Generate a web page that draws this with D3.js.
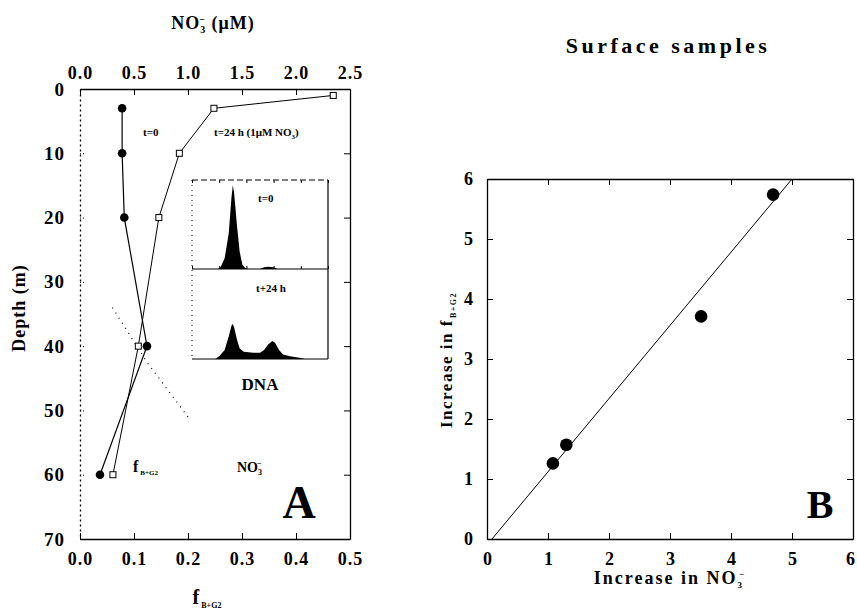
<!DOCTYPE html>
<html>
<head>
<meta charset="utf-8">
<script src="https://cdn.jsdelivr.net/npm/d3@7"></script>
<style>
  body{margin:0;background:#fff;}
  svg text{font-family:"Liberation Serif","DejaVu Serif",serif;font-weight:bold;fill:#000;}
</style>
</head>
<body>
<svg id="chart" width="857" height="611"></svg>
<script>
// ---- panel A data ----
const depthT0 = [3, 10, 20, 40, 60];
const fT0 = [0.078, 0.078, 0.082, 0.124, 0.037];
const depthT24 = [1, 3, 10, 20, 40, 60];
const fT24 = [0.469, 0.248, 0.184, 0.146, 0.108, 0.061];
const nitrateDepth = [34, 42.5, 51];
const nitrateVal = [0.3, 0.62, 1.0];
const fTicks = [0.0, 0.1, 0.2, 0.3, 0.4, 0.5];
const no3Ticks = [0.0, 0.5, 1.0, 1.5, 2.0, 2.5];
const depthTicks = [0, 10, 20, 30, 40, 50, 60, 70];

// DNA histograms (inset), channel 0-100, relative count
const dnaChannel0 = [0, 19, 21, 24, 27, 29, 30, 31, 33, 35, 37, 39, 41, 50, 53, 56, 60, 63, 100];
const dnaCount0 = [0, 0, 0.02, 0.12, 0.4, 0.8, 0.94, 0.85, 0.5, 0.2, 0.05, 0.01, 0, 0, 0.02, 0.025, 0.02, 0, 0];
const dnaChannel24 = [0, 17, 20, 24, 27, 29, 30, 31, 33, 35, 38, 45, 50, 53, 56, 59, 61, 64, 67, 72, 80, 83, 100];
const dnaCount24 = [0, 0, 0.03, 0.1, 0.25, 0.37, 0.39, 0.35, 0.22, 0.12, 0.08, 0.07, 0.07, 0.1, 0.16, 0.2, 0.18, 0.1, 0.05, 0.03, 0.01, 0, 0];

// ---- panel B data ----
const incNO3 = [1.08, 1.3, 3.51, 4.69];
const incF = [1.26, 1.57, 3.71, 5.74];
const fitSlope = 1.22, fitIntercept = -0.1;
const bTicks = [0, 1, 2, 3, 4, 5, 6];

const svg = d3.select("#chart");

// ================= panel A =================
const fx = d3.scaleLinear([0, 0.5], [80, 350]);
const nx = d3.scaleLinear([0, 2.5], [80, 350]);
const dy = d3.scaleLinear([0, 70], [89, 539]);

const gA = svg.append("g");

// bottom axis (f)
gA.append("g").attr("transform", `translate(0,${dy(70)})`)
  .call(d3.axisBottom(fx).tickValues(fTicks).tickFormat(d3.format(".1f")).tickSizeInner(-6).tickSizeOuter(0).tickPadding(13))
  .call(g => g.selectAll("text").attr("font-size", 18).attr("letter-spacing", 1));
// top axis (NO3)
gA.append("g").attr("transform", `translate(0,${dy(0)})`)
  .call(d3.axisTop(nx).tickValues(no3Ticks).tickFormat(d3.format(".1f")).tickSizeInner(-6).tickSizeOuter(0).tickPadding(10))
  .call(g => g.selectAll("text").attr("font-size", 18).attr("letter-spacing", 1));
// left axis (depth)
gA.append("g").attr("transform", `translate(${fx(0)},0)`)
  .call(d3.axisLeft(dy).tickValues(depthTicks).tickSizeInner(-4).tickSizeOuter(0).tickPadding(15))
  .call(g => g.select(".domain").attr("stroke-dasharray", "2,3"))
  .call(g => g.selectAll(".tick line").attr("stroke-dasharray", "1,2"))
  .call(g => g.selectAll("text").attr("font-size", 19).attr("letter-spacing", 1));
// right axis
gA.append("g").attr("transform", `translate(${fx(0.5)},0)`)
  .call(d3.axisRight(dy).tickValues(depthTicks).tickSizeInner(-6).tickSizeOuter(0).tickFormat(""));
gA.selectAll(".domain").attr("stroke-width", 1.3);

// lines
const lineA = d3.line();
gA.append("path")
  .attr("d", lineA(depthT0.map((d, i) => [fx(fT0[i]), dy(d)])))
  .attr("fill", "none").attr("stroke", "#000").attr("stroke-width", 1.2);
gA.append("path")
  .attr("d", lineA(depthT24.map((d, i) => [fx(fT24[i]), dy(d)])))
  .attr("fill", "none").attr("stroke", "#000").attr("stroke-width", 1);
gA.append("path")
  .attr("d", lineA(nitrateDepth.map((d, i) => [nx(nitrateVal[i]), dy(d)])))
  .attr("fill", "none").attr("stroke", "#000").attr("stroke-width", 1.2)
  .attr("stroke-dasharray", "1,5");

gA.selectAll("circle.t0").data(depthT0).join("circle")
  .attr("cx", (d, i) => fx(fT0[i])).attr("cy", d => dy(d)).attr("r", 4.3).attr("fill", "#000");
gA.selectAll("rect.t24").data(depthT24).join("rect")
  .attr("x", (d, i) => fx(fT24[i]) - 3).attr("y", d => dy(d) - 3)
  .attr("width", 6).attr("height", 6).attr("fill", "#fff").attr("stroke", "#000").attr("stroke-width", 1);

// annotations
gA.append("text").attr("x", 143).attr("y", 136).attr("font-size", 11).text("t=0");
const t24 = gA.append("text").attr("x", 214).attr("y", 136).attr("font-size", 11);
t24.append("tspan").text("t=24 h (1\u03bcM NO");
t24.append("tspan").attr("font-size", 7).attr("dy", 3).text("3");
t24.append("tspan").attr("dy", -3).text(")");

// axis titles
const tTop = gA.append("text").attr("x", 213).attr("y", 29).attr("text-anchor", "middle")
  .attr("font-size", 18).attr("letter-spacing", 1);
tTop.append("tspan").text("NO");
tTop.append("tspan").attr("font-size", 10).attr("dy", 4).text("3");
tTop.append("tspan").attr("font-size", 10).attr("dx", -7).attr("dy", -10).text("\u2212");
tTop.append("tspan").attr("dy", 6).text(" (\u03bcM)");

gA.append("text").attr("transform", "translate(25,308) rotate(-90)")
  .attr("text-anchor", "middle").attr("font-size", 18).attr("letter-spacing", 1).text("Depth (m)");

const tBot = gA.append("text").attr("x", 207).attr("y", 604).attr("text-anchor", "middle").attr("font-size", 20);
tBot.append("tspan").text("f");
tBot.append("tspan").attr("font-size", 8).attr("dy", 4).attr("dx", 2).text("B+G2");

const fLab = gA.append("text").attr("x", 133).attr("y", 472).attr("font-size", 16);
fLab.append("tspan").text("f");
fLab.append("tspan").attr("font-size", 7).attr("dy", 3).attr("dx", 2).text("B+G2");

const nLab = gA.append("text").attr("x", 237).attr("y", 472).attr("font-size", 14);
nLab.append("tspan").text("NO");
nLab.append("tspan").attr("font-size", 8).attr("dy", 3).text("3");
nLab.append("tspan").attr("font-size", 8).attr("dx", -5).attr("dy", -9).text("\u2212");

gA.append("text").attr("x", 299).attr("y", 518).attr("text-anchor", "middle").attr("font-size", 46).text("A");

// ---- inset DNA histograms ----
const hx = d3.scaleLinear([0, 100], [192, 328]);
const hyTop = d3.scaleLinear([0, 1], [269, 180]);
const hyBot = d3.scaleLinear([0, 1], [359, 269]);
const inset = gA.append("g");
inset.append("path")
  .attr("d", d3.area().x(d => hx(d)).y0(hyTop(0)).y1((d, i) => hyTop(dnaCount0[i]))(dnaChannel0))
  .attr("fill", "#000");
inset.append("path")
  .attr("d", d3.area().x(d => hx(d)).y0(hyBot(0)).y1((d, i) => hyBot(dnaCount24[i]))(dnaChannel24))
  .attr("fill", "#000");
// frame
inset.append("line").attr("x1", hx(0)).attr("x2", hx(100)).attr("y1", hyTop(1)).attr("y2", hyTop(1))
  .attr("stroke", "#000").attr("stroke-dasharray", "6,3");
inset.append("line").attr("x1", hx(0)).attr("x2", hx(0)).attr("y1", hyTop(1)).attr("y2", hyBot(0))
  .attr("stroke", "#000").attr("stroke-dasharray", "1,4");
inset.append("line").attr("x1", hx(100)).attr("x2", hx(100)).attr("y1", hyTop(1)).attr("y2", hyBot(0))
  .attr("stroke", "#000").attr("stroke-width", 1.2);
[hyTop(0), hyBot(0)].forEach(y => {
  inset.append("line").attr("x1", hx(0)).attr("x2", hx(100)).attr("y1", y).attr("y2", y)
    .attr("stroke", "#000").attr("stroke-width", 1.2);
});
inset.append("g").attr("transform", `translate(0,${hyTop(1)})`)
  .call(d3.axisTop(hx).ticks(5).tickSizeInner(-3).tickSizeOuter(0).tickFormat(""))
  .call(g => g.select(".domain").remove());
inset.append("g").attr("transform", `translate(0,${hyTop(0)})`)
  .call(d3.axisBottom(hx).ticks(5).tickSizeInner(-3).tickSizeOuter(0).tickFormat(""))
  .call(g => g.select(".domain").remove());
inset.append("text").attr("x", 258).attr("y", 202).attr("font-size", 11).text("t=0");
inset.append("text").attr("x", 256).attr("y", 292).attr("font-size", 11).text("t+24 h");
inset.append("text").attr("x", 260).attr("y", 390).attr("text-anchor", "middle").attr("font-size", 17).text("DNA");

// ================= panel B =================
const bx = d3.scaleLinear([0, 6], [487, 853]);
const by = d3.scaleLinear([0, 6], [539, 179]);
const gB = svg.append("g");

gB.append("g").attr("transform", `translate(0,${by(0)})`)
  .call(d3.axisBottom(bx).tickValues(bTicks).tickFormat(d3.format("d")).tickSizeInner(-6).tickSizeOuter(0).tickPadding(13))
  .call(g => g.selectAll("text").attr("font-size", 18))
  .call(g => g.selectAll(".tick:last-of-type text").attr("dx", -3));
gB.append("g").attr("transform", `translate(${bx(0)},0)`)
  .call(d3.axisLeft(by).tickValues(bTicks).tickFormat(d3.format("d")).tickSizeInner(-6).tickSizeOuter(0).tickPadding(14))
  .call(g => g.selectAll("text").attr("font-size", 18));
gB.append("g").attr("transform", `translate(0,${by(6)})`)
  .call(d3.axisTop(bx).tickValues(bTicks).tickSizeInner(-6).tickSizeOuter(0).tickFormat(""));
gB.append("g").attr("transform", `translate(${bx(6)},0)`)
  .call(d3.axisRight(by).tickValues(bTicks).tickSizeInner(-6).tickSizeOuter(0).tickFormat(""));
gB.selectAll(".domain").attr("stroke-width", 1.3);

// regression line, clipped to plot box
const xStart = (0 - fitIntercept) / fitSlope;
const xEnd = (6 - fitIntercept) / fitSlope;
gB.append("line")
  .attr("x1", bx(xStart)).attr("y1", by(fitSlope * xStart + fitIntercept))
  .attr("x2", bx(xEnd)).attr("y2", by(fitSlope * xEnd + fitIntercept))
  .attr("stroke", "#000").attr("stroke-width", 1);

gB.selectAll("circle.pt").data(incNO3).join("circle")
  .attr("cx", d => bx(d)).attr("cy", (d, i) => by(incF[i])).attr("r", 6.3).attr("fill", "#000");

gB.append("text").attr("x", 820).attr("y", 518).attr("text-anchor", "middle").attr("font-size", 40).text("B");

gB.append("text").attr("x", 668).attr("y", 53).attr("text-anchor", "middle")
  .attr("font-family", "Liberation Mono, monospace").attr("font-size", 22).attr("letter-spacing", 3.5)
  .text("Surface samples");

const bxLab = gB.append("text").attr("x", 670).attr("y", 584).attr("text-anchor", "middle")
  .attr("font-size", 18).attr("letter-spacing", 2);
bxLab.append("tspan").text("Increase in NO");
bxLab.append("tspan").attr("font-size", 9).attr("dy", 4).text("3");
bxLab.append("tspan").attr("font-size", 9).attr("dx", -5).attr("dy", -11).text("\u2212");

const byLab = gB.append("text").attr("transform", "translate(452,360) rotate(-90)")
  .attr("text-anchor", "middle").attr("font-size", 17).attr("letter-spacing", 1.5);
byLab.append("tspan").text("Increase in f");
byLab.append("tspan").attr("font-size", 8).attr("dy", 4).attr("dx", 1).text("B+G2");
</script>
</body>
</html>
